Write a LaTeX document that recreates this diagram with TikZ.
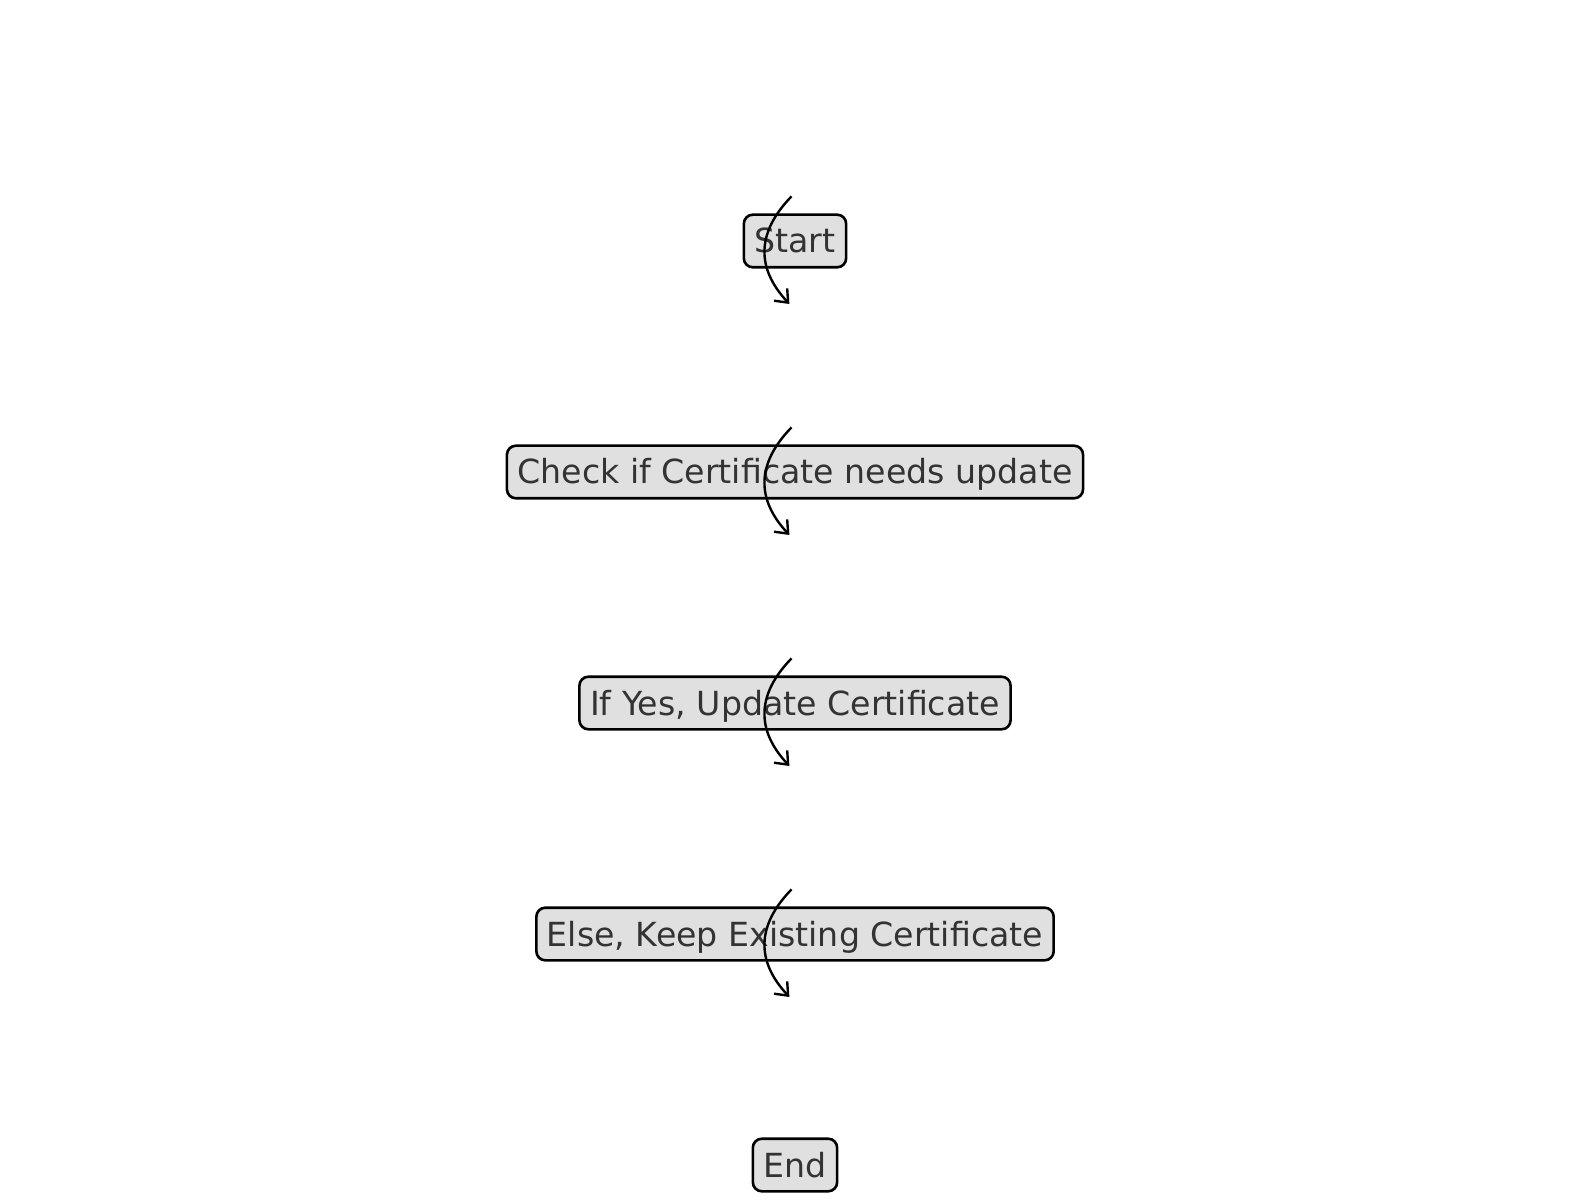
\documentclass[tikz,border=0pt]{standalone}
\usepackage{fontspec}
\setmainfont{DejaVu Sans}
\usetikzlibrary{arrows.meta,calc}
\definecolor{boxfill}{HTML}{E0E0E0}
\definecolor{boxtext}{HTML}{333333}
\begin{document}
\begin{tikzpicture}[x=0.5pt,y=-0.5pt,
  flowbox/.style={draw=black, line width=1.3pt, fill=boxfill, text=boxtext,
    rounded corners=4.5pt, inner xsep=5.3pt, inner ysep=0pt, minimum height=26.3pt,
    text height=13pt, text depth=1pt,
    font=\fontsize{16.6}{20}\selectfont},
  flowarrow/.style={line width=1.2pt, -{Straight Barb[length=5.5pt,width=9pt,line width=1.2pt]}}]
\useasboundingbox (0,0) rectangle (1589,1202);
\node[flowbox] (n1) at (795,241) {Start};
\node[flowbox] (n2) at (795,472) {Check if Certificate needs update};
\node[flowbox] (n3) at (795,703) {If Yes, Update Certificate};
\node[flowbox] (n4) at (795,934) {Else, Keep Existing Certificate};
\node[flowbox] (n5) at (795,1165) {End};
\foreach \i in {1,2,3,4}{
  \coordinate (s\i) at ($(n\i)+(-3.5,-44.6)$);
  \coordinate (e\i) at ($(n\i)+(-5.6,63)$);
  \draw[flowarrow] (s\i) .. controls +(-35,36) and +(-33.6,-36) .. (e\i);
}
\end{tikzpicture}
\end{document}
